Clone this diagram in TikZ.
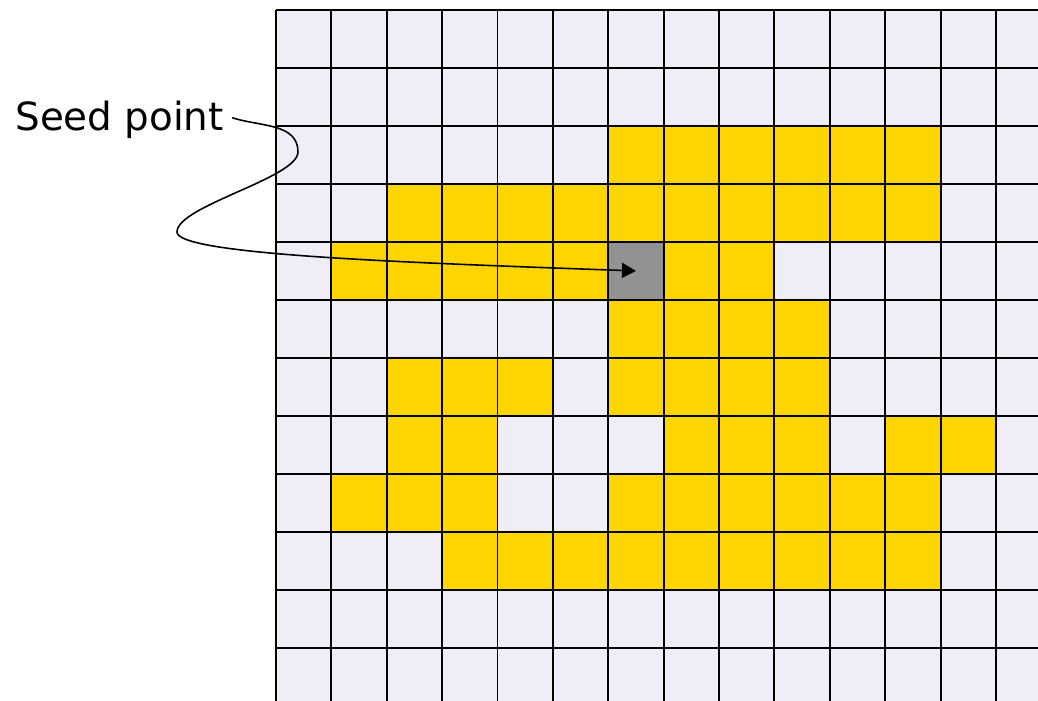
\documentclass[tikz,border=0pt]{standalone}
\usepackage{fontspec}
\setmainfont{DejaVu Sans}
\usetikzlibrary{arrows.meta}
\definecolor{Cell}{HTML}{EFEEF8}
\definecolor{Region}{HTML}{FFD500}
\definecolor{SeedGray}{HTML}{929292}

\begin{document}
\begin{tikzpicture}[x=1.1076cm,y=1.16cm,
      gridline/.style={black,line width=1.1pt},
      grown/.style={fill=Region},
      seedcell/.style={fill=SeedGray,inner sep=0pt,
                       minimum width=1.1076cm,minimum height=1.16cm},
      pointer/.style={-{Triangle[length=0.28cm,width=0.3cm]},line width=0.9pt}]
    \useasboundingbox (-4.984,0.172) rectangle (13.76,-11.914);
    \fill[Cell] (0,0) rectangle (13.76,-11.914);
    % region cells, row/columns
    \foreach \r/\cl in {2/{6,7,8,9,10,11},3/{2,3,4,5,6,7,8,9,10,11},
                        4/{1,2,3,4,5,7,8},5/{6,7,8,9},6/{2,3,4,6,7,8,9},
                        7/{2,3,7,8,9,11,12},8/{1,2,3,6,7,8,9,10,11},
                        9/{3,4,5,6,7,8,9,10,11}}
      \foreach \c in \cl
        \fill[grown] (\c,-\r) rectangle ++(1,-1);
    \node[seedcell] (seed) at (6.5,-4.5) {};
    \foreach \c in {0,...,13}
      \draw[gridline] (\c,0) -- (\c,-11.914);
    \foreach \r in {0,...,11}
      \draw[gridline] (0,-\r) -- (13.76,-\r);
    \node[font=\fontsize{22.1}{27}\selectfont,anchor=base west,inner sep=0pt]
      (seedlabel) at (-4.713,-2.086) {Seed point};
    \coordinate (bendA) at (0.397,-2.448);
    \coordinate (bendB) at (-1.788,-3.828);
    \draw[pointer] ([xshift=0.16cm,yshift=0.05cm]seedlabel.east)
      to[out=-18,in=90] (bendA)
      .. controls +(-90:0.45) and +(90:0.45) .. (bendB)
      .. controls +(-90:0.4) and +(178:4) .. (seed.center);
  \end{tikzpicture}
\end{document}
